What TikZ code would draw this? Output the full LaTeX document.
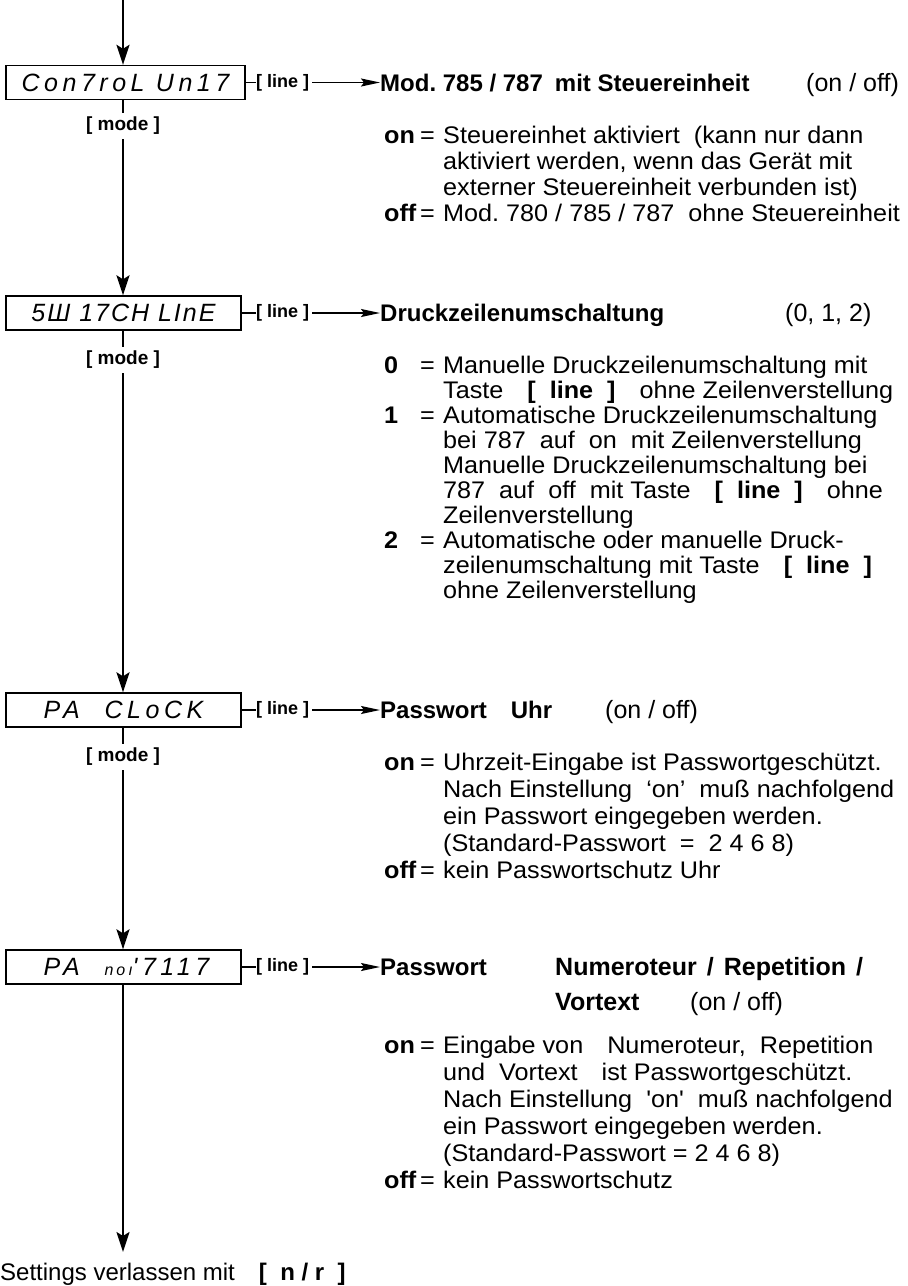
\documentclass[tikz,border=0pt]{standalone}
\usepackage{fontspec}
\setmainfont{Liberation Sans}
\newfontfamily\bodyfont{Liberation Sans}[FakeStretch=1.05]
\newfontfamily\dispfont{Liberation Sans}[LetterSpace=18]
\usetikzlibrary{arrows.meta}
\tikzset{
  body/.style={font=\fontsize{24}{26}\bodyfont, inner sep=0pt, anchor=base west},
  key/.style={font=\fontsize{24}{26}\bodyfont\bfseries, inner sep=0pt, anchor=base west},
  ttl/.style={font=\fontsize{24}{27}\selectfont\bfseries, inner sep=0pt, anchor=base west},
  ttlr/.style={font=\fontsize{25}{27}\selectfont, inner sep=0pt, anchor=base west},
  disp/.style={draw, line width=1.4pt, minimum height=34pt, inner sep=0pt, font=\fontsize{25}{25}\dispfont\itshape},
  keylbl/.style={font=\fontsize{18}{18}\selectfont\bfseries, inner sep=0pt, anchor=west},
  modelbl/.style={font=\fontsize{19}{19}\selectfont\bfseries, inner sep=4pt},
  flow/.style={line width=2pt},
  flowarrow/.style={flow, -{Stealth[length=20pt,width=13pt,inset=4pt]}},
  linearrow/.style={line width=1.6pt, -{Stealth[length=19pt,width=8pt,inset=3pt]}},
  tick/.style={line width=1.4pt},
}
\newcommand\txt[3]{\node[body] (#1) at #2 {#3};}
\begin{document}
\begin{tikzpicture}[x=1pt,y=-1pt]
\useasboundingbox (0,0) rectangle (908,1286);
\coordinate (start) at (123,0);
% ---------------- display boxes
\node[disp, minimum width=239pt] (b1) at (125.5,82.5) {Con7roL Un17};
\node[disp, minimum width=235pt] (b2) at (123.5,313) {\addfontfeature{LetterSpace=8}5Ш 17CH LInE\hspace{22pt}};
\node[disp, minimum width=235pt] (b3) at (123.5,710) {PA\quad CLoCK};
\node[disp, minimum width=235pt] (b4) at (123.5,967) {\hspace{6pt}PA\quad{\fontsize{16}{16}\selectfont noı}'7117};
% ---------------- mode labels
\node[modelbl] (m1) at (123,126) {[ mode ]};
\node[modelbl] (m2) at (123,360) {[ mode ]};
\node[modelbl] (m3) at (123,757) {[ mode ]};
% ---------------- exit
\node[font=\fontsize{24}{24}\selectfont, inner sep=0pt, anchor=base west] (exit) at (0,1280) {Settings verlassen mit\quad\textbf{[\ \ n / r\ \ ]}};
% ---------------- main chain
\draw[flowarrow] (start) -- (start |- b1.north);
\draw[flow] (start |- b1.south) -- (m1.north);
\draw[flowarrow] (m1.south) -- (start |- b2.north);
\draw[flow] (start |- b2.south) -- (m2.north);
\draw[flowarrow] (m2.south) -- (start |- b3.north);
\draw[flow] (start |- b3.south) -- (m3.north);
\draw[flowarrow] (m3.south) -- (start |- b4.north);
\coordinate (exittip) at (123,1252);
\draw[flowarrow] (start |- b4.south) -- (exittip);
% ---------------- line labels and arrows
\foreach \b/\y in {1/82.5,2/313,3/710,4/967}{
  \node[keylbl] (l\b) at (256,\y) {[ line ]};
  \draw[tick] (b\b.east |- l\b.west) -- (l\b.west);
}
% ---------------- titles
\node[ttl] (t1) at (380,91) {Mod.\ 785 / 787\enspace mit Steuereinheit};
\node[ttlr] (t1b) at (806,91) {(on / off)};
\node[ttl] (t2) at (380,321.5) {Druckzeilenumschaltung};
\node[ttlr] (t2b) at (785,321.5) {(0, 1, 2)};
\node[ttl] (t3) at (380,718.5) {Passwort\quad Uhr};
\node[ttlr] (t3b) at (605,718.5) {(on / off)};
\node[ttl] (t4) at (380,975.5) {Passwort};
\node[ttl, font=\fontsize{25}{27}\selectfont\bfseries] (t4a) at (555,975.5) {Numeroteur\hspace{10pt}/\hspace{10pt}Repetition\hspace{10pt}/};
\node[ttl, font=\fontsize{25}{27}\selectfont\bfseries] (t4c) at (555,1010.5) {Vortext};
\node[ttlr] (t4b) at (690,1010.5) {(on / off)};
\foreach \b in {1,2,3,4}{
  \draw[linearrow] (l\b.east) ++(3,0) -- (t\b.west |- l\b.west);
}
% ---------------- block 1
\node[key] (k1a) at (384,143.5) {on};
\txt{e1a}{(420,143.5)}{=}
\txt{s1a}{(443,143.5)}{Steuereinhet aktiviert\ \ (kann nur dann}
\txt{s1b}{(443,169.5)}{aktiviert werden, wenn das Gerät mit}
\txt{s1c}{(443,195.5)}{externer Steuereinheit verbunden ist)}
\node[key] (k1b) at (384,221.5) {off};
\txt{e1b}{(420,221.5)}{=}
\txt{s1d}{(443,221.5)}{Mod.\ 780 / 785 / 787\ \ ohne Steuereinheit}
% ---------------- block 2
\node[key] (k2a) at (384,373.5) {0};
\txt{e2a}{(420,373.5)}{=}
\txt{s2a}{(443,373.5)}{Manuelle Druckzeilenumschaltung mit}
\txt{s2b}{(443,398.5)}{Taste\quad\textbf{[\ \ line\ \ ]}\quad ohne Zeilenverstellung}
\node[key] (k2b) at (384,423.5) {1};
\txt{e2b}{(420,423.5)}{=}
\txt{s2c}{(443,423.5)}{Automatische Druckzeilenumschaltung}
\txt{s2d}{(443,448.5)}{bei 787\ \ auf\ \ on\ \ mit Zeilenverstellung}
\txt{s2e}{(443,473.5)}{Manuelle Druckzeilenumschaltung bei}
\txt{s2f}{(443,498.5)}{787\ \ auf\ \ off\ \ mit Taste\quad\textbf{[\ \ line\ \ ]}\quad ohne}
\txt{s2g}{(443,523.5)}{Zeilenverstellung}
\node[key] (k2c) at (384,548.5) {2};
\txt{e2c}{(420,548.5)}{=}
\txt{s2h}{(443,548.5)}{Automatische oder manuelle Druck-}
\txt{s2i}{(443,573.5)}{zeilenumschaltung mit Taste\quad\textbf{[\ \ line\ \ ]}}
\txt{s2j}{(443,598.5)}{ohne Zeilenverstellung}
% ---------------- block 3
\node[key] (k3a) at (384,770.5) {on};
\txt{e3a}{(420,770.5)}{=}
\txt{s3a}{(443,770.5)}{Uhrzeit-Eingabe ist Passwortgeschützt.}
\txt{s3b}{(443,797.5)}{Nach Einstellung\ \ ‘on’\ \ muß nachfolgend}
\txt{s3c}{(443,824.5)}{ein Passwort eingegeben werden.}
\txt{s3d}{(443,851.5)}{(Standard-Passwort\ \ =\ \ 2 4 6 8)}
\node[key] (k3b) at (384,878.5) {off};
\txt{e3b}{(420,878.5)}{=}
\txt{s3e}{(443,878.5)}{kein Passwortschutz Uhr}
% ---------------- block 4
\node[key] (k4a) at (384,1053.5) {on};
\txt{e4a}{(420,1053.5)}{=}
\txt{s4a}{(443,1053.5)}{Eingabe von\quad Numeroteur,\ \ Repetition}
\txt{s4b}{(443,1080.5)}{und\ \ Vortext\quad ist Passwortgeschützt.}
\txt{s4c}{(443,1107.5)}{Nach Einstellung\ \ 'on'\ \ muß nachfolgend}
\txt{s4d}{(443,1134.5)}{ein Passwort eingegeben werden.}
\txt{s4e}{(443,1161.5)}{(Standard-Passwort = 2 4 6 8)}
\node[key] (k4b) at (384,1188.5) {off};
\txt{e4b}{(420,1188.5)}{=}
\txt{s4f}{(443,1188.5)}{kein Passwortschutz}
\end{tikzpicture}
\end{document}
